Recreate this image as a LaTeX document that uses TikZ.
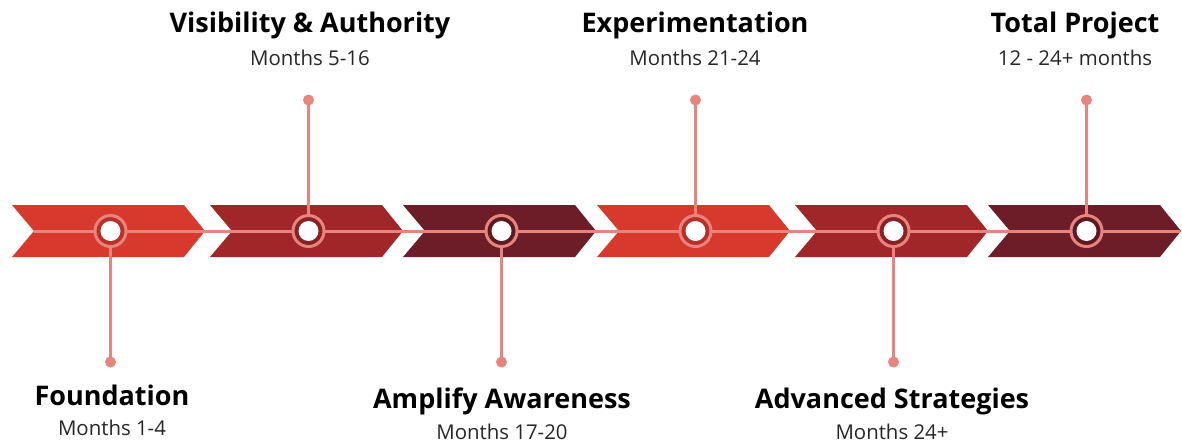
\documentclass[tikz,border=0pt]{standalone}
\usepackage{fontspec}
\setmainfont{Open Sans}

\definecolor{redA}{HTML}{D8392D}
\definecolor{redB}{HTML}{A0262A}
\definecolor{redC}{HTML}{6C1D28}
\definecolor{salmon}{HTML}{E8847C}

\begin{document}
\begin{tikzpicture}[
        x=1pt, y=-1pt,
        line width=3pt,
        stem/.style={draw=salmon, line width=3pt},
        ring/.style={circle, draw=salmon, line width=3pt, minimum size=31pt, inner sep=0pt},
        dot/.style={circle, fill=salmon, minimum size=11pt, inner sep=0pt},
        title/.style={font=\bfseries\fontsize{27}{30}\selectfont, inner sep=0pt},
        months/.style={font=\fontsize{20.4}{22}\selectfont, text=black!85, inner sep=0pt}
      ]
        % 画布大小
        \useasboundingbox (0,0) rectangle (1182,445);
        % 六个箭头形色块
        \foreach \L/\c [count=\i from 0] in {12/redA, 210/redB, 403/redC, 597/redA, 795/redB, 988/redC} {
          \fill[\c] (\L,205) -- ++(172,0) -- ++(21,26) -- ++(-21,26)
            -- ++(-172,0) -- ++(22,-26) -- cycle;
          \coordinate (m\i) at (\L+98.5,231);
        }
        % 贯穿的横线
        \coordinate (start) at (34,231);
        \coordinate (end) at (1180,231);
        \draw[stem] (start) -- (end);
        % 竖线端点
        \coordinate (d0) at (110,362);
        \coordinate (d1) at (310,100);
        \coordinate (d2) at (502,362);
        \coordinate (d3) at (695,100);
        \coordinate (d4) at (895,362);
        \coordinate (d5) at (1087,100);
        % 竖线与圆点
        \foreach \i in {0,...,5} {
          \draw[stem] (m\i) -- (m\i |- d\i);
          \node[dot] (p\i) at (m\i |- d\i) {};
        }
        % 圆环
        \foreach \c [count=\i from 0] in {redA, redB, redC, redA, redB, redC} {
          \node[ring, fill=\c!85!black] (c\i) at (m\i) {};
          \fill[white] (c\i) circle (10);
        }
        % 上方文字
        \node[title] (t1) at (310,25) {Visibility \& Authority};
        \node[months] (s1) at (310,58) {Months 5-16};
        \node[title] (t3) at (695,25) {Experimentation};
        \node[months] (s3) at (695,58) {Months 21-24};
        \node[title] (t5) at (1075,25) {Total Project};
        \node[months] (s5) at (1075,58) {12 - 24+ months};
        % 下方文字
        \node[title] (t0) at (112,395) {Foundation};
        \node[months] (s0) at (112,428) {Months 1-4};
        \node[title] (t2) at (502,401) {Amplify Awareness};
        \node[months] (s2) at (502,432) {Months 17-20};
        \node[title] (t4) at (892,401) {Advanced Strategies};
        \node[months] (s4) at (892,432) {Months 24+};
      \end{tikzpicture}
\end{document}
